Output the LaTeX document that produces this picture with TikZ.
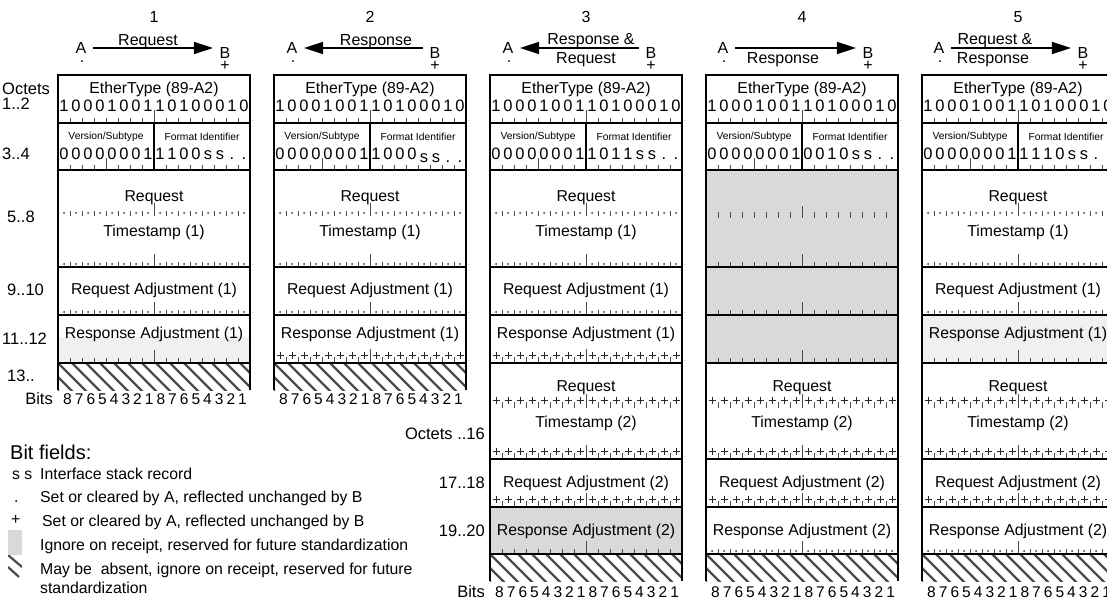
\documentclass[tikz,border=0pt]{standalone}
\usepackage{fontspec}
\setmainfont{Liberation Sans}
\usetikzlibrary{arrows.meta}

\newcommand\fs[1]{\fontsize{#1}{#1}\selectfont}

\tikzset{
  x=1pt, y=-1pt,
  frame/.style={draw=black, line width=2.2pt},
  tk/.style={draw=black!70, line width=0.9pt},
  pl/.style={draw=black!85, line width=1pt},
  lbl/.style={inner sep=0pt, font=\fs{15.8}},
  hdr/.style={inner sep=0pt, font=\fs{16}},
  bit/.style={inner sep=0pt, anchor=base, font=\fs{16.5}},
  bitno/.style={inner sep=0pt, anchor=base, font=\fs{15.5}},
  small/.style={inner sep=0pt, font=\fs{10.3}},
  side/.style={inner sep=0pt, font=\fs{16.5}},
  legend/.style={inner sep=0pt, anchor=west, font=\fs{15.8}},
  arr/.style={-{Triangle[length=19pt,width=12pt]}, line width=1.6pt, shorten <=6.5pt, shorten >=6.5pt},
  stripe/.style={draw=black!70, line width=2.2pt},
  ignore/.style={fill=black!15},
  faint/.style={fill=black!6},
}

% tick marks along a base line: #1 base y, #2 tick height, #3 centre tick height
\newcommand\tickrow[3]{%
  \foreach \k in {1,...,15} {\draw[tk] (12*\k,#1) -- ++(0,-#2);}
  \draw[tk] (96,#1) -- ++(0,-#3);}

% ruler with a dot in every bit cell
\newcommand\dotruler[1]{%
  \tickrow{#1}{5}{13}%
  \foreach \k in {0,...,15} {\fill[black!80] (6+12*\k,#1-3) circle[radius=1pt];}}

% ruler with a plus in every bit cell
\newcommand\plusruler[1]{%
  \tickrow{#1}{6}{14}%
  \foreach \k in {0,...,15} {\draw[pl] (2.5+12*\k,#1-8) -- ++(7,0) (6+12*\k,#1-11.5) -- ++(0,7);}}

% optional trailing field, hatched and open at the bottom
\newcommand\hatchfill[2]{%
  \begin{scope}
    \clip (0,#1) rectangle (192,#2);
    \foreach \k in {-3,...,14} {\draw[stripe] (14*\k,#1) -- ++(40,40);}
  \end{scope}
  \draw[frame] (0,#2) -- (0,#1) -- (192,#1) -- (192,#2);}

% octets 1..2
\newcommand\ethrow[1]{%
  \draw[frame] (0,75) rectangle (192,123);
  \node[lbl] (#1eth) at (96,89) {EtherType (89-A2)};
  \foreach \bv [count=\k from 0] in {1,0,0,0,1,0,0,1,1,0,1,0,0,0,1,0}
    {\node[bit] (#1e\k) at (6+12*\k,112) {\bv};}
  \tickrow{123}{5}{13}}

% octets 3..4: #2 = format identifier bits as bit/lowering pairs
\newcommand\verrow[2]{%
  \tickrow{170}{5}{5}
  \draw[tk] (48,170) -- ++(0,-12);
  \draw[frame] (0,123) rectangle (192,170);
  \draw[frame] (96,123) -- (96,170);
  \node[small] (#1ver) at (48,137) {Version/Subtype};
  \node[small] (#1fmt) at (144,137) {Format Identifier};
  \foreach \bv [count=\k from 0] in {0,0,0,0,0,0,0,1}
    {\node[bit] (#1v\k) at (6+12*\k,160) {\bv};}
  \foreach \bv/\dy [count=\k from 0] in {#2}
    {\node[bit] (#1f\k) at (102+12*\k,160+\dy) {\bv};}}

% octets 5..10, first timestamp set
\newcommand\tsone[1]{%
  \draw[frame] (0,170) rectangle (192,267);
  \node[lbl] (#1rq1) at (96,198) {Request};
  \dotruler{216}
  \node[lbl] (#1ts1) at (96,232) {Timestamp (1)};
  \dotruler{267}
  \draw[frame] (0,267) rectangle (192,315);
  \node[lbl] (#1ra1) at (96,290.5) {Request Adjustment (1)};
  \dotruler{315}}

% octets 13..18, second timestamp set
\newcommand\tstwo[1]{%
  \draw[frame] (0,363) rectangle (192,459);
  \node[lbl] (#1rq2) at (96,387.5) {Request};
  \plusruler{408}
  \node[lbl] (#1ts2) at (96,423.5) {Timestamp (2)};
  \plusruler{459}
  \draw[frame] (0,459) rectangle (192,507);
  \node[lbl] (#1ra2) at (96,483) {Request Adjustment (2)};
  \plusruler{507}}

% bit numbering under a frame
\newcommand\bitsrow[2]{%
  \foreach \dg [count=\k from 0] in {8,7,6,5,4,3,2,1,8,7,6,5,4,3,2,1}
    {\node[bitno] (#1b\k) at (9.5+11.67*\k,#2) {\dg};}}

\begin{document}
\begin{tikzpicture}
\useasboundingbox (0,0) rectangle (1107,601);
\clip (0,0) rectangle (1107,601);

% ---- frame numbers and message directions ----
\node[hdr] (n1) at (154,17) {1};
\node[hdr] (n2) at (370,17) {2};
\node[hdr] (n3) at (586,17) {3};
\node[hdr] (n4) at (802,17) {4};
\node[hdr] (n5) at (1018,17) {5};

\node[hdr] (A1) at (81,48) {A};   \node[hdr] (A1m) at (82,62) {.};
\node[hdr] (B1) at (225,53) {B};  \node[hdr] (B1m) at (225,66) {+};
\node[hdr] (t1) at (148,42) {Request};
\draw[arr] (A1.east) -- (A1.east -| B1.west);

\node[hdr] (A2) at (292,48) {A};  \node[hdr] (A2m) at (293,62) {.};
\node[hdr] (B2) at (435,53) {B};  \node[hdr] (B2m) at (435,66) {+};
\node[hdr] (t2) at (376,42) {Response};
\draw[arr] (A2.east -| B2.west) -- (A2.east);

\node[hdr] (A3) at (508,48) {A};  \node[hdr] (A3m) at (509,62) {.};
\node[hdr] (B3) at (651,53) {B};  \node[hdr] (B3m) at (651,66) {+};
\node[hdr] (t3a) at (591,41) {Response \&};
\node[hdr] (t3b) at (586,60) {Request};
\draw[arr] (A3.east -| B3.west) -- (A3.east);

\node[hdr] (A4) at (723,48) {A};  \node[hdr] (A4m) at (724,62) {.};
\node[hdr] (B4) at (868,53) {B};  \node[hdr] (B4m) at (868,66) {+};
\node[hdr] (t4) at (783,60) {Response};
\draw[arr] (A4.east) -- (A4.east -| B4.west);

\node[hdr] (A5) at (939,48) {A};  \node[hdr] (A5m) at (940,62) {.};
\node[hdr] (B5) at (1083,53) {B}; \node[hdr] (B5m) at (1083,66) {+};
\node[hdr] (t5a) at (995,41) {Request \&};
\node[hdr] (t5b) at (993,60) {Response};
\draw[arr] (A5.east) -- (A5.east -| B5.west);

% ---- octet numbers ----
\node[side, anchor=west] (o1) at (2,88.5) {Octets};
\node[side, anchor=west] (o2) at (2,104) {1..2};
\node[side, anchor=west] (o3) at (2,153.5) {3..4};
\node[side, anchor=west] (o4) at (7,217) {5..8};
\node[side, anchor=west] (o5) at (7,290) {9..10};
\node[side, anchor=west] (o6) at (2,339) {11..12};
\node[side, anchor=west] (o7) at (7,376) {13..};
\node[side, anchor=base east] (o8) at (53,404) {Bits};
\node[side, anchor=east] (p1) at (485,434) {Octets ..16};
\node[side, anchor=east] (p2) at (485,483) {17..18};
\node[side, anchor=east] (p3) at (485,531) {19..20};
\node[side, anchor=base east] (p4) at (485,597.5) {Bits};

% ---- frame 1 ----
\begin{scope}[xshift=58pt]
  \ethrow{a}
  \verrow{a}{1/0,1/0,0/0,0/0,s/0,s/0,./0,./0}
  \tsone{a}
  \fill[black!6] (0,337) rectangle (192,363);
  \draw[frame] (0,315) rectangle (192,363);
  \node[lbl] (ars1) at (96,334) {Response Adjustment (1)};
  \tickrow{363}{5}{13}
  \hatchfill{363}{390}
  \bitsrow{a}{404}
\end{scope}

% ---- frame 2 ----
\begin{scope}[xshift=274pt]
  \ethrow{b}
  \verrow{b}{1/0,0/0,0/0,0/0,s/3,s/3,./3,./3}
  \tsone{b}
  \draw[frame] (0,315) rectangle (192,363);
  \node[lbl] (brs1) at (96,334) {Response Adjustment (1)};
  \plusruler{363}
  \hatchfill{363}{390}
  \bitsrow{b}{404}
\end{scope}

% ---- frame 3 ----
\begin{scope}[xshift=490pt]
  \ethrow{c}
  \verrow{c}{1/0,0/0,1/0,1/0,s/0,s/0,./0,./0}
  \tsone{c}
  \draw[frame] (0,315) rectangle (192,363);
  \node[lbl] (crs1) at (96,334) {Response Adjustment (1)};
  \plusruler{363}
  \tstwo{c}
  \draw[frame, ignore] (0,507) rectangle (192,554);
  \node[lbl] (crs2) at (96,531) {Response Adjustment (2)};
  \tickrow{554}{5}{13}
  \hatchfill{554}{581}
  \bitsrow{c}{597.5}
\end{scope}

% ---- frame 4 ----
\begin{scope}[xshift=706pt]
  \ethrow{d}
  \verrow{d}{0/0,0/0,1/0,0/0,s/0,s/0,./0,./0}
  \draw[frame, ignore] (0,170) rectangle (192,267);
  \tickrow{218}{6}{12}
  \tickrow{267}{5}{13}
  \draw[frame, ignore] (0,267) rectangle (192,315);
  \tickrow{315}{5}{13}
  \draw[frame, ignore] (0,315) rectangle (192,363);
  \tickrow{363}{5}{13}
  \tstwo{d}
  \draw[frame] (0,507) rectangle (192,554);
  \node[lbl] (drs2) at (96,531) {Response Adjustment (2)};
  \dotruler{554}
  \hatchfill{554}{581}
  \bitsrow{d}{597.5}
\end{scope}

% ---- frame 5 ----
\begin{scope}[xshift=922pt]
  \ethrow{e}
  \verrow{e}{1/0,1/0,1/0,0/0,s/0,s/0,./0,./0}
  \tsone{e}
  \draw[frame, faint] (0,315) rectangle (192,363);
  \node[lbl] (ers1) at (96,334) {Response Adjustment (1)};
  \tickrow{363}{5}{13}
  \tstwo{e}
  \draw[frame] (0,507) rectangle (192,554);
  \node[lbl] (ers2) at (96,531) {Response Adjustment (2)};
  \dotruler{554}
  \hatchfill{554}{581}
  \bitsrow{e}{597.5}
\end{scope}

% ---- key ----
\node[inner sep=0pt, anchor=west, font=\fs{20}] (kt) at (10,452.5) {Bit fields:};
\node[legend] (ks) at (12,475) {s s};
\node[legend] (kst) at (40,474) {Interface stack record};
\node[legend] (kd) at (14,502) {.};
\node[legend] (kdt) at (40,498) {Set or cleared by A, reflected unchanged by B};
\node[legend] (kp) at (11,520) {+};
\node[legend] (kpt) at (42,522.5) {Set or cleared by A, reflected unchanged by B};
\fill[black!15] (8,530) rectangle (22,555);
\node[legend] (kit) at (40,546.5) {Ignore on receipt, reserved for future standardization};
\begin{scope}
  \clip (8,555) rectangle (22,578);
  \draw[stripe] (8,555) -- (22,567);
  \draw[stripe] (8,567) -- (19,577);
\end{scope}
\node[legend] (kht) at (40,570) {May be\ \ absent, ignore on receipt, reserved for future};
\node[legend] (kht2) at (40,587.5) {standardization};
\end{tikzpicture}
\end{document}
